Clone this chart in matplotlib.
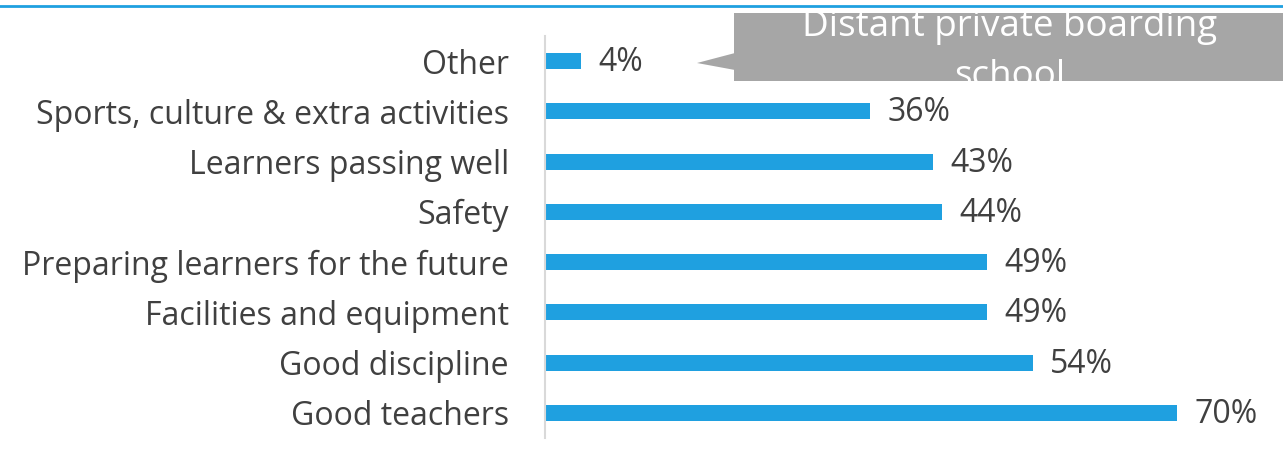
import matplotlib.pyplot as plt
from matplotlib.patches import Polygon, Rectangle

categories = ["Other", "Sports, culture & extra activities", "Learners passing well",
              "Safety", "Preparing learners for the future", "Facilities and equipment",
              "Good discipline", "Good teachers"]
values = [4, 36, 43, 44, 49, 49, 54, 70]
callout_lines = ["Distant private boarding", "school"]

W, H = 1283, 465
blue = "#1fa0e0"
txt = "#404040"
plt.rcParams['font.family'] = ['Open Sans', 'DejaVu Sans']

fig = plt.figure(figsize=(W / 100, H / 100), dpi=100)

# main bar axes: x from 545px to right edge, y from 36px to 438px
ax = fig.add_axes([545 / W, (H - 438) / H, (W - 545) / W, (438 - 36) / H])
y = range(len(categories))
ax.barh(y, values, height=0.32, color=blue)
ax.set_ylim(len(categories) - 0.5, -0.5)
ax.set_xlim(0, (W - 545) / 9.03)
ax.set_yticks(list(y))
ax.set_yticklabels(categories, fontsize=23, color=txt)
ax.tick_params(axis='y', length=0, pad=26)
ax.set_xticks([])
for s in ['top', 'right', 'bottom']:
    ax.spines[s].set_visible(False)
ax.spines['left'].set_color('#d9d9d9')
ax.spines['left'].set_linewidth(1.5)
for i, v in enumerate(values):
    ax.text(v + 1.9, i + 0.03, f"{v}%", va='center', ha='left', fontsize=23, color=txt)

# overlay in pixel coords for top line and callout
ov = fig.add_axes([0, 0, 1, 1])
ov.set_xlim(0, W)
ov.set_ylim(H, 0)
ov.axis('off')
ov.plot([0, W], [6, 6], color=blue, lw=2)
box = Rectangle((734, 13), W - 734, 68, facecolor='#a6a6a6', edgecolor='none')
ov.add_patch(box)
ov.add_patch(Polygon([[735, 53], [697, 63], [735, 70]], closed=True,
                     facecolor='#a6a6a6', edgecolor='none'))
for k, line in enumerate(callout_lines):
    t = ov.text(1010, 27 + 50 * k, line, ha='center', va='center', fontsize=26.5,
                color='white')
    t.set_clip_path(box)

fig.savefig("out.png", dpi=100)
